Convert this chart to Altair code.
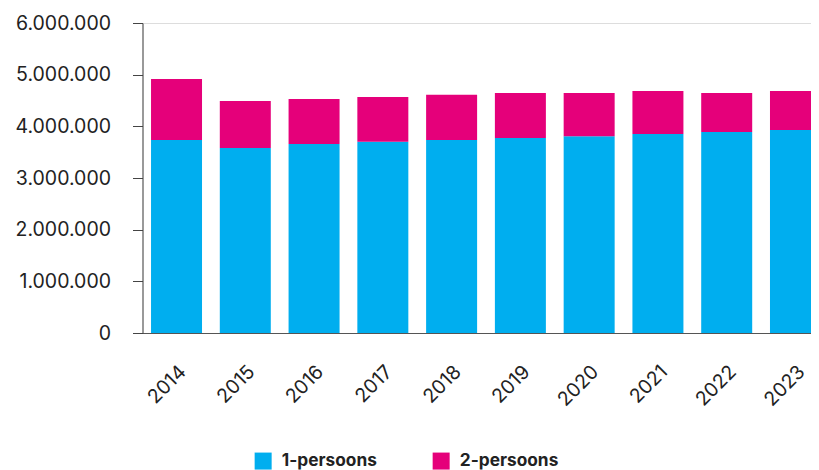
import altair as alt
import pandas as pd

years = ["2014", "2015", "2016", "2017", "2018", "2019", "2020", "2021", "2022", "2023"]
one_person = [3735000, 3580000, 3660000, 3700000, 3735000, 3775000, 3810000, 3850000, 3890000, 3930000]
two_person = [1180000, 910000, 870000, 870000, 875000, 870000, 835000, 835000, 755000, 755000]
series = ["1-persoons", "2-persoons"]
colors = ["#00AEEF", "#E5007A"]
y_ticks = [0, 1000000, 2000000, 3000000, 4000000, 5000000, 6000000]

rows = []
for i, yr in enumerate(years):
    rows.append({"jaar": yr, "type": series[0], "aantal": one_person[i], "volgorde": 0})
    rows.append({"jaar": yr, "type": series[1], "aantal": two_person[i], "volgorde": 1})
df = pd.DataFrame(rows)

FONT = "Inter"

chart = alt.Chart(df).mark_bar().encode(
    x=alt.X(
        "jaar:N",
        title=None,
        sort=years,
        scale=alt.Scale(paddingInner=0.2585, paddingOuter=0.124),
        axis=alt.Axis(
            labelAngle=-45,
            ticks=False,
            labelPadding=29,
            labelFontSize=19.5,
            labelColor="#222222",
            domainColor="#555555",
            domainWidth=1,
            labelFont=FONT,
        ),
    ),
    y=alt.Y(
        "aantal:Q",
        stack="zero",
        title=None,
        scale=alt.Scale(domain=[0, 6000000], nice=False),
        axis=alt.Axis(
            values=y_ticks,
            labelExpr="replace(replace(format(datum.value, ','), ',', '.'), ',', '.')",
            grid=False,
            tickSize=10,
            tickColor="#444444",
            domainColor="#444444",
            labelPadding=22,
            labelFontSize=19.5,
            labelColor="#222222",
            labelFont=FONT,
        ),
    ),
    color=alt.Color(
        "type:N",
        scale=alt.Scale(domain=series, range=colors),
        legend=alt.Legend(
            title=None,
            orient="none",
            direction="horizontal",
            legendX=112,
            legendY=429,
            symbolType="square",
            symbolSize=289,
            symbolStrokeWidth=0,
            labelFontSize=17.3,
            labelFontWeight="bold",
            labelColor="#222222",
            labelFont=FONT,
            labelOffset=10,
            columnPadding=55,
            padding=0,
        ),
    ),
    order=alt.Order("volgorde:Q", sort="ascending"),
).properties(
    width=687,
    height=310,
    autosize=alt.AutoSizeParams(type="none"),
    padding={"left": 134.5, "top": 15, "right": -18.5, "bottom": 137},
).configure_view(stroke=None).configure(font=FONT)

chart.save("out.html", embed_options={"renderer": "svg", "actions": False})
